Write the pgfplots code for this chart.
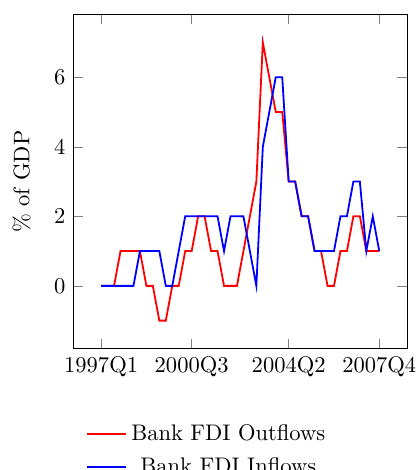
\documentclass[border=0pt]{standalone}
\usepackage{pgfplots}
\pgfplotsset{compat=1.18}
\begin{document}
\begin{tikzpicture}
\begin{axis}[
  scale only axis,
  width=148pt, height=148pt,
  xtick={1997,2000.5,2004.25,2007.75},
  xticklabels={1997Q1,2000Q3,2004Q2,2007Q4},
  ytick={0,2,4,6},
  ylabel={\% of GDP},
  ylabel shift=3.5pt,
  legend cell align=center,
  legend style={at={(0.404,-0.2)}, anchor=north, draw=none, row sep=2pt},
]
\addplot[red, thick] coordinates {
(1997.00,0) (1997.25,0) (1997.50,0) (1997.75,1)
(1998.00,1) (1998.25,1) (1998.50,1) (1998.75,0)
(1999.00,0) (1999.25,-1) (1999.50,-1) (1999.75,0)
(2000.00,0) (2000.25,1) (2000.50,1) (2000.75,2)
(2001.00,2) (2001.25,1) (2001.50,1) (2001.75,0)
(2002.00,0) (2002.25,0) (2002.50,1) (2002.75,2)
(2003.00,3) (2003.25,7) (2003.50,6) (2003.75,5)
(2004.00,5) (2004.25,3) (2004.50,3) (2004.75,2)
(2005.00,2) (2005.25,1) (2005.50,1) (2005.75,0)
(2006.00,0) (2006.25,1) (2006.50,1) (2006.75,2)
(2007.00,2) (2007.25,1) (2007.50,1) (2007.75,1)
};
\addlegendentry{Bank FDI Outflows}
\addplot[blue, thick] coordinates {
(1997.00,0) (1997.25,0) (1997.50,0) (1997.75,0)
(1998.00,0) (1998.25,0) (1998.50,1) (1998.75,1)
(1999.00,1) (1999.25,1) (1999.50,0) (1999.75,0)
(2000.00,1) (2000.25,2) (2000.50,2) (2000.75,2)
(2001.00,2) (2001.25,2) (2001.50,2) (2001.75,1)
(2002.00,2) (2002.25,2) (2002.50,2) (2002.75,1)
(2003.00,0) (2003.25,4) (2003.50,5) (2003.75,6)
(2004.00,6) (2004.25,3) (2004.50,3) (2004.75,2)
(2005.00,2) (2005.25,1) (2005.50,1) (2005.75,1)
(2006.00,1) (2006.25,2) (2006.50,2) (2006.75,3)
(2007.00,3) (2007.25,1) (2007.50,2) (2007.75,1)
};
\addlegendentry{Bank FDI Inflows}
\coordinate (sw) at (rel axis cs:0,0);
\coordinate (ne) at (rel axis cs:1,1);
\end{axis}
\pgfresetboundingbox
\path ([xshift=-32.5pt,yshift=-53.9pt]sw) rectangle ([xshift=4.3pt,yshift=6.5pt]ne);
\end{tikzpicture}
\end{document}
